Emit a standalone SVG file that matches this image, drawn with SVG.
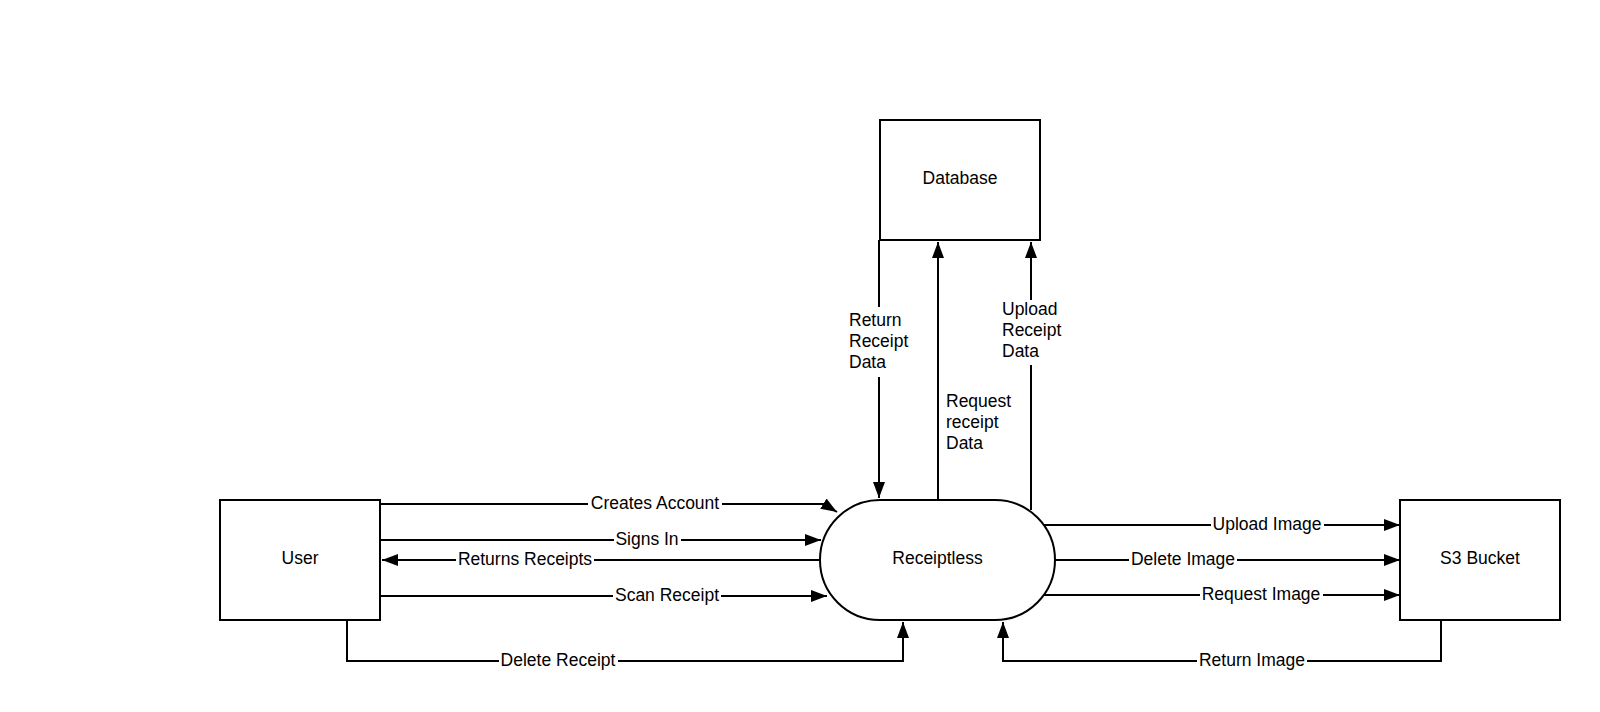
<svg xmlns="http://www.w3.org/2000/svg" width="1600" height="712" viewBox="0 0 1600 712">
  <defs>
    <style>
      .shape { fill: #ffffff; stroke: #000000; stroke-width: 2; }
      .flow { fill: none; stroke: #000000; stroke-width: 2; }
      .arrow { marker-end: url(#head); }
      text { font-family: "Liberation Sans", Arial, sans-serif; font-size: 17.5px; fill: #000000; }
      .mid { text-anchor: middle; dominant-baseline: central; }
      .bg { fill: #ffffff; stroke: none; }
    </style>
    <marker id="head" markerUnits="userSpaceOnUse" markerWidth="16" markerHeight="12" refX="16" refY="6" orient="auto">
      <path d="M0,0 L16,6 L0,12 z" fill="#000000"/>
    </marker>
  </defs>

  <rect width="1600" height="712" fill="#ffffff"/>

  <!-- connectors -->
  <g id="connectors">
    <path class="flow arrow" d="M380 504 H824 L837 512"/>
    <path class="flow arrow" d="M380 540 H821"/>
    <path class="flow arrow" d="M820 560 H382"/>
    <path class="flow arrow" d="M380 596 H827"/>
    <path class="flow arrow" d="M347 620 V661 H903 V622"/>
    <path class="flow arrow" d="M1044 525 H1400"/>
    <path class="flow arrow" d="M1055 560 H1400"/>
    <path class="flow arrow" d="M1044 595 H1400"/>
    <path class="flow arrow" d="M1441 620 V661 H1003 V622"/>
    <path class="flow arrow" d="M879 240 V498"/>
    <path class="flow arrow" d="M938 500 V242"/>
    <path class="flow arrow" d="M1031 510 V242"/>
  </g>

  <!-- connector labels -->
  <g id="labels">
    <rect class="bg" x="588" y="494" width="134" height="20"/>
    <text class="mid" x="655" y="503">Creates Account</text>
    <rect class="bg" x="614" y="530" width="67" height="20"/>
    <text class="mid" x="647" y="539">Signs In</text>
    <rect class="bg" x="456" y="550" width="138" height="20"/>
    <text class="mid" x="525" y="559">Returns Receipts</text>
    <rect class="bg" x="613" y="586" width="108" height="20"/>
    <text class="mid" x="667" y="595">Scan Receipt</text>
    <rect class="bg" x="499" y="651" width="119" height="20"/>
    <text class="mid" x="558" y="660">Delete Receipt</text>
    <rect class="bg" x="1211" y="515" width="113" height="20"/>
    <text class="mid" x="1267" y="524">Upload Image</text>
    <rect class="bg" x="1129" y="550" width="108" height="20"/>
    <text class="mid" x="1183" y="559">Delete Image</text>
    <rect class="bg" x="1200" y="585" width="123" height="20"/>
    <text class="mid" x="1261" y="594">Request Image</text>
    <rect class="bg" x="1197" y="651" width="110" height="20"/>
    <text class="mid" x="1252" y="660">Return Image</text>

    <rect class="bg" x="846" y="307" width="66" height="70"/>
    <text x="849" y="326">Return</text>
    <text x="849" y="347">Receipt</text>
    <text x="849" y="368">Data</text>

    <text x="946" y="407">Request</text>
    <text x="946" y="428">receipt</text>
    <text x="946" y="449">Data</text>

    <rect class="bg" x="999" y="300" width="66" height="65"/>
    <text x="1002" y="315">Upload</text>
    <text x="1002" y="336">Receipt</text>
    <text x="1002" y="357">Data</text>
  </g>

  <!-- nodes -->
  <g id="node-user">
    <rect class="shape" x="220" y="500" width="160" height="120"/>
    <text class="mid" x="300" y="558">User</text>
  </g>
  <g id="node-receiptless">
    <rect class="shape" x="820" y="500" width="235" height="120" rx="60" ry="60"/>
    <text class="mid" x="937.5" y="558">Receiptless</text>
  </g>
  <g id="node-s3">
    <rect class="shape" x="1400" y="500" width="160" height="120"/>
    <text class="mid" x="1480" y="558">S3 Bucket</text>
  </g>
  <g id="node-database">
    <rect class="shape" x="880" y="120" width="160" height="120"/>
    <text class="mid" x="960" y="178">Database</text>
  </g>
</svg>
